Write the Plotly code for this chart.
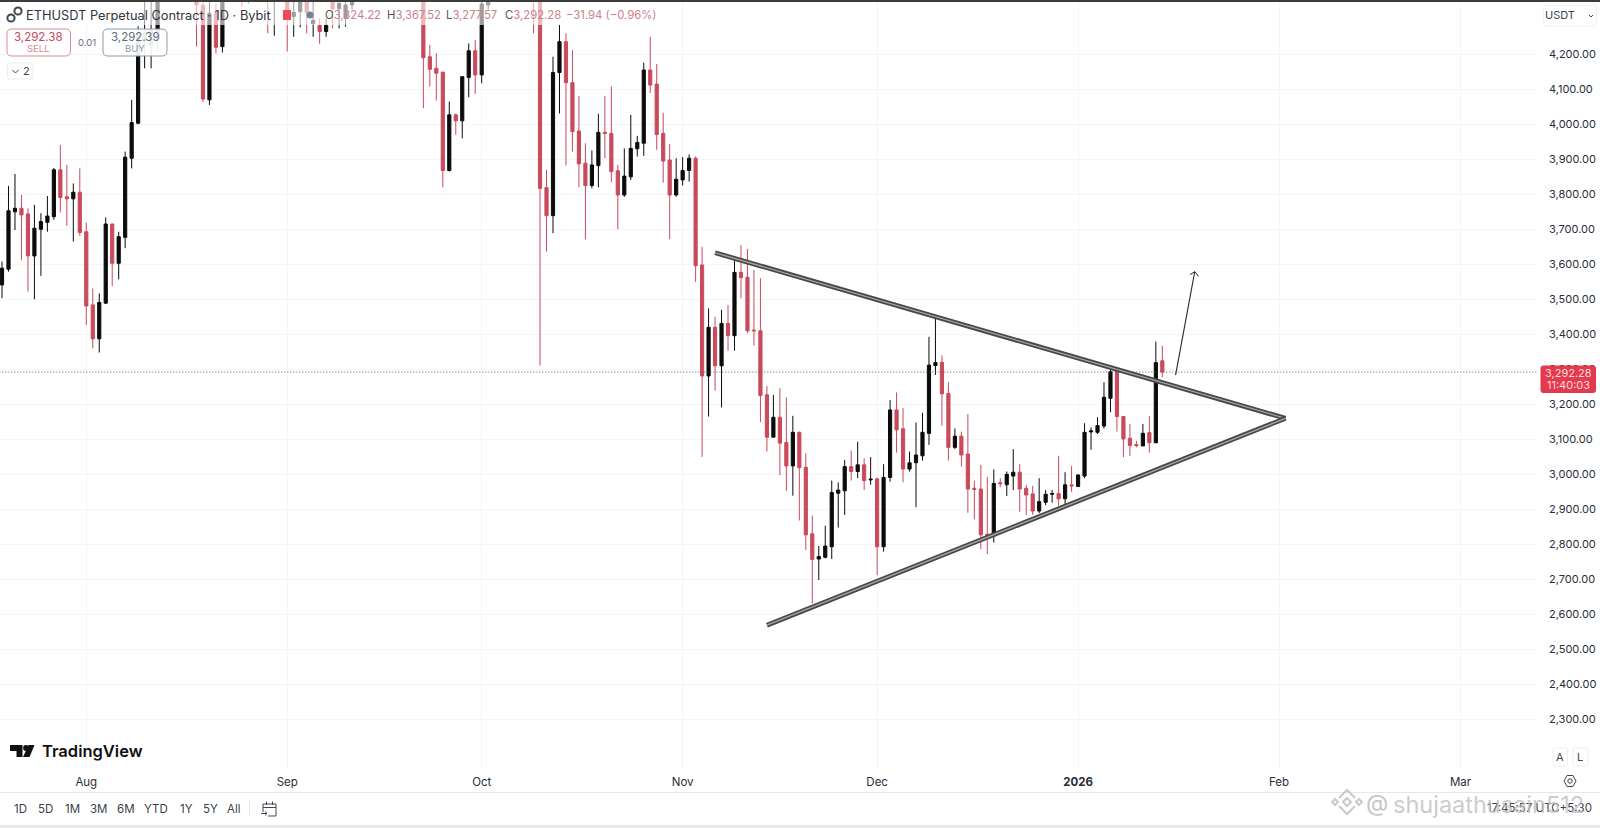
import pandas as pd
import plotly.graph_objects as go

# daily candles, Jul 19 2025 -> Jan 14 2026
# whatever sits above the top edge of the chart is an estimate
opens = [
    3541, 3586, 3750, 3760, 3744, 3624, 3700, 3720, 3736, 3870, 3793, 3787, 3806,
    3693, 3484, 3387, 3489, 3715, 3603, 3677, 3903, 4003, 4240, 4225, 4240, 4600, 4750, 4560, 4440, 4430, 4470, 4340, 4070, 4317, 4222, 4830, 4780, 4770, 4380, 4600, 4630, 4510, 4360, 4380,
    4390, 4308, 4322, 4350, 4287, 4283, 4265, 4350, 4330, 4303, 4341, 4460, 4715, 4665, 4600, 4520, 4500, 4590, 4580, 4470, 4480, 4450, 4193, 4160, 4149, 3868, 4027, 4010, 4134, 4210,
    4141, 4341, 4490, 4515, 4490, 4515, 4685, 4450, 4525, 4370, 3819, 3739, 4148, 4236, 4119, 3981, 3889, 3825, 3882, 3977, 3974, 3867, 3798, 3850, 3930, 3946, 4155, 4115, 3974, 3898, 3798,
    3841, 3868, 3903, 3598, 3281, 3420, 3310, 3431, 3396, 3577, 3563, 3412, 3410, 3227, 3106, 3163, 3091, 3024, 3120, 3020, 2830, 2758, 2763, 2793, 2946, 2953, 3022, 3008, 3027, 2984,
    2987, 2793, 2991, 3184, 3130, 3015, 3033, 3053, 3117, 3311, 3320, 3231, 3077, 3109, 3058, 2960, 2958, 2829, 2824, 2976, 2970, 2995, 3006, 2960, 2944, 2895, 2920, 2943, 2945, 2930, 2970,
    2965, 2995, 3121, 3120, 3138, 3217, 3296, 3165, 3103, 3085, 3081, 3119, 3090, 3324.22,
]
highs = [
    3608, 3824, 3858, 3798, 3760, 3770, 3746, 3795, 3875, 3941, 3884, 3831, 3874,
    3719, 3531, 3517, 3734, 3717, 3693, 3922, 4070, 4280, 4370, 4370, 4640, 4790, 4790, 4680, 4480, 4490, 4490, 4380, 4380, 4345, 4880, 4890, 4950, 4780, 4620, 4660, 4650, 4530, 4400, 4495,
    4420, 4380, 4385, 4370, 4380, 4303, 4303, 4375, 4375, 4375, 4480, 4730, 4760, 4680, 4650, 4540, 4610, 4630, 4590, 4490, 4490, 4470, 4227, 4203, 4150, 4065, 4031, 4137, 4231, 4241,
    4360, 4510, 4560, 4540, 4600, 4720, 4750, 4560, 4550, 4395, 3870, 4193, 4284, 4260, 4212, 4081, 3946, 3925, 4030, 4081, 4108, 3884, 3931, 4027, 3967, 4176, 4250, 4172, 4033, 3944, 3903,
    3906, 3914, 3908, 3650, 3474, 3450, 3470, 3484, 3617, 3655, 3644, 3584, 3560, 3252, 3227, 3246, 3220, 3167, 3122, 3060, 2882, 2795, 2853, 2982, 2977, 3041, 3068, 3093, 3046, 3049,
    2990, 3029, 3212, 3234, 3189, 3065, 3148, 3176, 3393, 3446, 3340, 3263, 3131, 3122, 3172, 2982, 3027, 2993, 3014, 2989, 3008, 3072, 3029, 2970, 2967, 2989, 2955, 2955, 3053, 3006, 3024,
    3000, 3146, 3134, 3163, 3263, 3306, 3300, 3167, 3144, 3096, 3144, 3166, 3379, 3367.52,
]
lows = [
    3503, 3579, 3698, 3612, 3522, 3500, 3567, 3693, 3727, 3748, 3710, 3665, 3681,
    3427, 3360, 3348, 3487, 3538, 3557, 3646, 3874, 4000, 4160, 4160, 4210, 4570, 4440, 4390, 4410, 4380, 4222, 4063, 4055, 4203, 4205, 4740, 4710, 4335, 4345, 4530, 4480, 4260, 4253, 4365,
    4208, 4250, 4277, 4260, 4250, 4230, 4250, 4274, 4274, 4279, 4328, 4440, 4620, 4560, 4480, 4470, 4440, 4560, 4450, 4455, 4440, 4046, 4108, 4068, 3820, 3865, 3970, 3960, 4077, 4087,
    4117, 4328, 4400, 4440, 4450, 4490, 4430, 4420, 4260, 3311, 3636, 3689, 4031, 3882, 3922, 3820, 3671, 3817, 3820, 3903, 3834, 3700, 3793, 3841, 3908, 3910, 4089, 3927, 3833, 3672, 3793,
    3825, 3836, 3550, 3050, 3165, 3239, 3191, 3353, 3353, 3503, 3403, 3368, 3149, 3065, 3106, 2998, 2953, 2939, 2868, 2784, 2631, 2698, 2760, 2758, 2848, 2884, 2982, 2989, 2955, 2970,
    2712, 2779, 2979, 3062, 2977, 3008, 2906, 3039, 3084, 3284, 3139, 3039, 3072, 3022, 2890, 2871, 2786, 2772, 2805, 2963, 2938, 2955, 2893, 2884, 2884, 2889, 2912, 2919, 2910, 2912, 2950,
    2965, 2989, 3070, 3115, 3131, 3177, 3122, 3049, 3052, 3077, 3081, 3062, 3090, 3277.57,
]
closes = [
    3589, 3753, 3760, 3741, 3624, 3703, 3722, 3738, 3870, 3791, 3787, 3806, 3691,
    3481, 3387, 3491, 3715, 3603, 3679, 3906, 4005, 4262, 4262, 4270, 4600, 4750, 4560, 4440, 4430, 4470, 4341, 4072, 4317, 4220, 4830, 4780, 4770, 4380, 4600, 4630, 4510, 4360, 4380, 4390,
    4310, 4320, 4350, 4319, 4297, 4265, 4283, 4330, 4345, 4341, 4460, 4715, 4665, 4600, 4520, 4500, 4590, 4580, 4470, 4480, 4450, 4190, 4157, 4146, 3868, 4027, 4010, 4136, 4210, 4141,
    4344, 4490, 4515, 4490, 4515, 4685, 4450, 4525, 4370, 3817, 3739, 4148, 4236, 4119, 3979, 3887, 3825, 3884, 3977, 3974, 3865, 3798, 3852, 3931, 3948, 4155, 4112, 3971, 3895, 3798, 3843,
    3868, 3903, 3596, 3281, 3420, 3310, 3431, 3396, 3577, 3562, 3410, 3410, 3225, 3106, 3163, 3089, 3024, 3120, 3019, 2827, 2757, 2765, 2795, 2948, 2955, 3022, 3008, 3027, 2982, 2986,
    2793, 2991, 3184, 3127, 3015, 3033, 3055, 3120, 3312, 3319, 3230, 3077, 3109, 3055, 2958, 2957, 2827, 2824, 2974, 2973, 3000, 3006, 2958, 2941, 2895, 2922, 2943, 2945, 2930, 2970, 2967,
    2998, 3120, 3124, 3139, 3220, 3293, 3165, 3101, 3082, 3082, 3117, 3090, 3319, 3292.28,
]
dates = pd.date_range("2025-07-19", periods=len(opens), freq="D")

last_price = 3292.28

month_ticks = ["2025-08-01", "2025-09-01", "2025-10-01", "2025-11-01", "2025-12-01", "2026-01-01", "2026-02-01", "2026-03-01"]
month_labels = ["Aug", "Sep", "Oct", "Nov", "Dec", "<b>2026</b>", "Feb", "Mar"]
price_ticks = list(range(2300, 4300, 100))

# hand drawn lines on the chart
upper_line_dates = ["2025-11-06", "2026-02-02"]
upper_line_prices = [3633, 3160]
lower_line_dates = ["2025-11-14", "2026-02-02"]
lower_line_prices = [2569, 3160]

RED = "#c94a5c"
BLACK = "#0b0b0b"
GRID = "#f4f5f6"
TEXT = "#2a2e39"


# furniture around the chart is placed in screen pixels
def px(x):
    return x / 1537


def py(y):
    return (768 - y) / 766


def rect(x0, y0, x1, y1, fill, line=None, width=1):
    return dict(type="rect", xref="paper", yref="paper", x0=px(x0), x1=px(x1), y0=py(y0), y1=py(y1),
                fillcolor=fill, line=dict(color=line or "rgba(0,0,0,0)", width=width if line else 0), layer="above")


def poly(points, fill="rgba(0,0,0,0)", line=None, width=1, close=True):
    d = "M " + " L ".join(f"{px(x):.5f} {py(y):.5f}" for x, y in points) + (" Z" if close else "")
    return dict(type="path", xref="paper", yref="paper", path=d, fillcolor=fill,
                line=dict(color=line or "rgba(0,0,0,0)", width=width if line else 0), layer="above")


def round_box(x0, y0, x1, y1, r, fill, line):
    pts = [(x0 + r, y0), (x1 - r, y0), (x1, y0 + r), (x1, y1 - r), (x1 - r, y1), (x0 + r, y1), (x0, y1 - r), (x0, y0 + r)]
    p = [f"{px(a):.5f} {py(b):.5f}" for a, b in pts]
    c = [f"{px(a):.5f} {py(b):.5f}" for a, b in [(x1, y0), (x1, y1), (x0, y1), (x0, y0)]]
    d = f"M {p[0]} L {p[1]} Q {c[0]} {p[2]} L {p[3]} Q {c[1]} {p[4]} L {p[5]} Q {c[2]} {p[6]} L {p[7]} Q {c[3]} {p[0]} Z"
    return dict(type="path", xref="paper", yref="paper", path=d, fillcolor=fill, line=dict(color=line, width=1), layer="above")


def circle(cx, cy, r, fill, line=None, width=1):
    return dict(type="circle", xref="paper", yref="paper", x0=px(cx - r), x1=px(cx + r), y0=py(cy - r), y1=py(cy + r),
                fillcolor=fill, line=dict(color=line or "rgba(0,0,0,0)", width=width if line else 0), layer="above")


def label(x, y, text, size=12, color=TEXT, anchor="center", weight=None, family="Inter"):
    font = dict(family=family, size=size, color=color)
    if weight:
        font["weight"] = weight
    return dict(xref="paper", yref="paper", x=px(x), y=py(y), text=text, showarrow=False, xanchor=anchor, yanchor="middle",
                font=font, borderpad=0, borderwidth=0)


fig = go.Figure()

fig.add_trace(go.Candlestick(
    x=dates, open=opens, high=highs, low=lows, close=closes,
    increasing=dict(line=dict(color=BLACK, width=1), fillcolor=BLACK),
    decreasing=dict(line=dict(color=RED, width=1), fillcolor=RED),
    whiskerwidth=0, hoverinfo="skip", showlegend=False,
))

# last price dotted line
fig.add_trace(go.Scatter(x=["2025-07-01", "2026-04-01"], y=[last_price, last_price], mode="lines",
                         line=dict(color="#555b66", width=1, dash="1px,2px"), hoverinfo="skip", showlegend=False))

# triangle, dark line with a grey core
for xs, ys in [(upper_line_dates, upper_line_prices), (lower_line_dates, lower_line_prices)]:
    fig.add_trace(go.Scatter(x=xs, y=ys, mode="lines", line=dict(color="#484848", width=4.8), hoverinfo="skip", showlegend=False))
    fig.add_trace(go.Scatter(x=xs, y=ys, mode="lines", line=dict(color="#a6a6a6", width=1.3), hoverinfo="skip", showlegend=False))

fig.update_layout(
    width=1600, height=828,
    margin=dict(l=0, r=63, t=2, b=60),
    paper_bgcolor="white", plot_bgcolor="white",
    showlegend=False,
    xaxis=dict(
        type="date", range=["2025-07-18 16:33", "2026-03-12 19:12"],
        tickmode="array", tickvals=month_ticks, ticktext=month_labels,
        tickfont=dict(family="Inter", size=11.5, color=TEXT),
        ticklabelstandoff=5,
        showgrid=True, gridcolor=GRID, gridwidth=1, zeroline=False, showline=False, ticks="",
        rangeslider=dict(visible=False), fixedrange=True,
    ),
    yaxis=dict(
        side="right", range=[2160.9, 4349.4],
        tickmode="array", tickvals=price_ticks, tickformat=",.2f",
        tickfont=dict(family="Inter", size=11, color=TEXT),
        ticklabelstandoff=11,
        showgrid=True, gridcolor=GRID, gridwidth=1, zeroline=False, showline=False, ticks="",
        fixedrange=True,
    ),
)

shapes = [
    # washed strip behind the legend, then the dark edge on top of the page
    rect(8, 2, 655, 25, "rgba(255,255,255,0.6)"),
    rect(0, 0, 1600, 2, "#3c3c3c"),
    # separator and bottom strip
    rect(0, 792, 1600, 793, "#e6e7ea"),
    rect(0, 825, 1600, 828, "#e9e9e9"),
    rect(249, 799, 250, 817, "#e6e7ea"),
    # status dots in the legend
    rect(283, 10, 291, 20, "#ee4a5b"),
    circle(310, 15, 3.5, "#6f8494"),
    # symbol icon
    circle(11, 18, 3.6, "white", "#3f4650", 2),
    circle(18, 11, 3.6, "white", "#3f4650", 2),
    # order buttons
    round_box(7, 29, 70.5, 56, 5, "rgba(255,255,255,0.92)", "#d98a96"),
    round_box(103, 29, 167, 56, 5, "rgba(255,255,255,0.92)", "#8d9aa7"),
    round_box(7.5, 63, 33, 79, 2, "rgba(255,255,255,0.92)", "#eceded"),
    poly([(12.5, 70), (15.5, 73), (18.5, 70)], line="#3f4650", width=1, close=False),
    # USDT button
    round_box(1543.5, 5, 1596.5, 26, 3, "rgba(255,255,255,0.92)", "#f0f0f2"),
    poly([(1589, 15), (1591, 17), (1593, 15)], line="#3f4650", width=1, close=False),
    # last price tag
    round_box(1541, 366, 1595.5, 392.5, 2, "#e33a4e", "#e33a4e"),
    # A and L buttons
    round_box(1553, 748, 1567.5, 766, 2, "white", "#eeeeef"),
    round_box(1573, 748, 1588, 766, 2, "white", "#eeeeef"),
    # settings icon
    poly([(1564, 781), (1567, 775.5), (1573, 775.5), (1576, 781), (1573, 786.5), (1567, 786.5)], line="#3f4650", width=1),
    circle(1570, 781, 2.2, "white", "#3f4650", 1),
    # TradingView mark
    poly([(10, 745), (22.5, 745), (22.5, 757), (16.5, 757), (16.5, 751), (10, 751)], fill="#111111"),
    circle(26, 748, 2.9, "#111111"),
    poly([(28.5, 745), (34.5, 745), (29.5, 757), (23, 757)], fill="#111111"),
    # go-to-date icon
    poly([(263, 812), (263, 804), (276, 804), (276, 816), (268, 816)], line="#3f4650", width=1, close=False),
    poly([(263, 807.5), (276, 807.5)], line="#3f4650", width=1, close=False),
    poly([(266.5, 801.5), (266.5, 805)], line="#3f4650", width=1, close=False),
    poly([(272.5, 801.5), (272.5, 805)], line="#3f4650", width=1, close=False),
    poly([(261, 813.5), (267, 813.5)], line="#3f4650", width=1, close=False),
    poly([(265, 811.5), (267, 813.5), (265, 815.5)], line="#3f4650", width=1, close=False),
    # open head of the breakout arrow
    poly([(1190, 274.5), (1195, 271.7), (1198.5, 276.5)], line="#2b2b2b", width=1, close=False),
    # watermark logo
    poly([(1339, 798), (1347, 790), (1355, 798)], line="#c9c9c9", width=2, close=False),
    poly([(1339, 806), (1347, 814), (1355, 806)], line="#c9c9c9", width=2, close=False),
    poly([(1347, 798), (1351, 802), (1347, 806), (1343, 802)], line="#c9c9c9", width=2),
    poly([(1335, 799), (1338, 802), (1335, 805), (1332, 802)], line="#c9c9c9", width=2),
    poly([(1359, 799), (1362, 802), (1359, 805), (1356, 802)], line="#c9c9c9", width=2),
]

PALE_RED = "#cc7f8c"
annotations = [
    label(26, 15, "ETHUSDT Perpetual Contract · 1D · Bybit", size=12.8, color="#30343e", anchor="left"),
    label(325, 15, "<span style='color:#555'>O</span>3,324.22", size=11.3, color=PALE_RED, anchor="left"),
    label(386.5, 15, "<span style='color:#555'>H</span>3,367.52", size=11.3, color=PALE_RED, anchor="left"),
    label(446.5, 15, "<span style='color:#555'>L</span>3,277.57", size=11.3, color=PALE_RED, anchor="left"),
    label(505, 15, "<span style='color:#555'>C</span>3,292.28", size=11.3, color=PALE_RED, anchor="left"),
    label(565.5, 15, "−31.94 (−0.96%)", size=11.3, color=PALE_RED, anchor="left"),
    label(38.5, 36.5, "3,292.38", size=11.5, color="#c4495c"),
    label(38.5, 48.5, "SELL", size=9.5, color="#d08a96"),
    label(135, 36.5, "3,292.39", size=11.5, color="#5e6b78"),
    label(135, 48.5, "BUY", size=9.5, color="#909aa5"),
    label(87, 43, "0.01", size=9.5, color="#6a6f78"),
    label(26.5, 71.5, "2", size=11, color="#3f4650"),
    label(1560, 15.5, "USDT", size=11, color="#3f4650"),
    label(1568, 372.5, "3,292.28", size=11, color="#ffd9de"),
    label(1568, 385, "11:40:03", size=11, color="#ffd9de"),
    label(1560, 757, "A", size=11, color="#3f4650"),
    label(1580, 757, "L", size=11, color="#3f4650"),
    label(41.5, 751, "TradingView", size=16.5, color="#111111", anchor="left", weight=600),
    label(20, 809, "1D", size=11.5, color="#3a3f4a"),
    label(45, 809, "5D", size=11.5, color="#3a3f4a"),
    label(72, 809, "1M", size=11.5, color="#3a3f4a"),
    label(99, 809, "3M", size=11.5, color="#3a3f4a"),
    label(126, 809, "6M", size=11.5, color="#3a3f4a"),
    label(156, 809, "YTD", size=11.5, color="#3a3f4a"),
    label(186, 809, "1Y", size=11.5, color="#3a3f4a"),
    label(210, 809, "5Y", size=11.5, color="#3a3f4a"),
    label(234, 809, "All", size=11.5, color="#3a3f4a"),
    label(1592, 808, "17:45:57 UTC+5:30", size=11.5, color="#3a3f4a", anchor="right"),
    label(1377, 803, "@", size=23, color="#c6c6c6"),
    label(1393, 804, "shujaathusain512", size=23.5, color="rgba(190,190,190,0.8)", anchor="left"),
    # breakout arrow shaft
    dict(x="2026-01-19", y=3579, ax="2026-01-16", ay=3279, xref="x", yref="y", axref="x", ayref="y", text="",
         showarrow=True, arrowhead=0, arrowwidth=1.1, arrowcolor="#2b2b2b"),
]

fig.update_layout(shapes=shapes, annotations=annotations)

fig.write_html("out.html", config={"displayModeBar": False}, post_script="document.body.style.margin='0';")
